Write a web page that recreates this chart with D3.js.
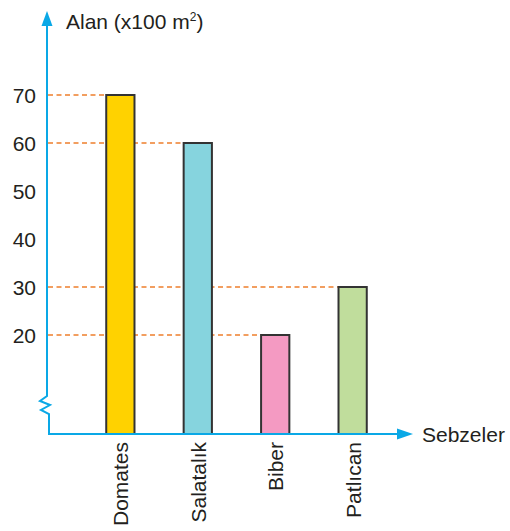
<!DOCTYPE html>
<html>
<head>
<meta charset="utf-8">
<script src="https://cdn.jsdelivr.net/npm/d3@7.9.0/dist/d3.min.js"></script>
<style>
  body { margin: 0; background: #fff; }
  svg { font-family: "Liberation Sans", Arial, sans-serif; }
</style>
</head>
<body>
<svg id="chart" width="510" height="531"></svg>
<script>
const categories = ['Domates', 'Salatalık', 'Biber', 'Patlıcan'];
const values = [70, 60, 20, 30];
const tickValues = [20, 30, 40, 50, 60, 70];
const colors = ['#ffd200', '#86d4de', '#f49ac2', '#c0dd9c'];

const axisColor = '#0aa8e6';
const svg = d3.select('#chart');

const x0 = 47, baseY = 434;
const y = d3.scaleLinear().domain([20, 70]).range([335, 95]);
const x = d3.scaleBand().domain(categories).range([83, 390]).paddingInner(0.635).paddingOuter(0.3);

// dashed guide lines
values.forEach((v, i) => {
  svg.append('line')
    .attr('x1', x0 + 1).attr('x2', x(categories[i]))
    .attr('y1', y(v)).attr('y2', y(v))
    .attr('stroke', '#ee7f2d').attr('stroke-width', 1.5)
    .attr('stroke-dasharray', '5,3.5');
});

// bars
svg.selectAll('rect.bar')
  .data(values)
  .join('rect')
  .attr('class', 'bar')
  .attr('x', (d, i) => x(categories[i]))
  .attr('width', x.bandwidth())
  .attr('y', d => y(d))
  .attr('height', d => baseY - y(d))
  .attr('fill', (d, i) => colors[i])
  .attr('stroke', '#333')
  .attr('stroke-width', 2);

// y axis with break
svg.append('path')
  .attr('d', `M${x0},24 L${x0},396 L${x0 - 7},401 L${x0 + 3},405 L${x0 - 6},410 L${x0 + 2},414 L${x0 + 2},${baseY}`)
  .attr('fill', 'none').attr('stroke', axisColor).attr('stroke-width', 2);
svg.append('path')
  .attr('d', `M${x0},11 L${x0 - 5.5},26 L${x0 + 5.5},26 Z`)
  .attr('fill', axisColor);

// x axis
svg.append('line')
  .attr('x1', x0 + 1).attr('x2', 400).attr('y1', baseY).attr('y2', baseY)
  .attr('stroke', axisColor).attr('stroke-width', 2);
svg.append('path')
  .attr('d', `M413,${baseY} L397,${baseY - 5.5} L397,${baseY + 5.5} Z`)
  .attr('fill', axisColor);

// tick labels
svg.selectAll('text.tick')
  .data(tickValues)
  .join('text')
  .attr('class', 'tick')
  .attr('x', 36).attr('y', d => y(d) + 7.5)
  .attr('text-anchor', 'end')
  .attr('font-size', 21).attr('fill', '#231f20')
  .text(d => d);

// category labels
svg.selectAll('text.cat')
  .data(categories)
  .join('text')
  .attr('class', 'cat')
  .attr('transform', d => `translate(${x(d) + x.bandwidth() / 2 + 8},442) rotate(-90)`)
  .attr('text-anchor', 'end')
  .attr('font-size', 21).attr('fill', '#231f20')
  .text(d => d);

// axis titles
const t = svg.append('text').attr('x', 66).attr('y', 29)
  .attr('font-size', 21).attr('fill', '#231f20');
t.append('tspan').text('Alan (x100 m');
t.append('tspan').attr('font-size', 12).attr('dy', -8).text('2');
t.append('tspan').attr('dy', 8).text(')');

svg.append('text').attr('x', 422).attr('y', 442)
  .attr('font-size', 21).attr('fill', '#231f20')
  .text('Sebzeler');
</script>
</body>
</html>
